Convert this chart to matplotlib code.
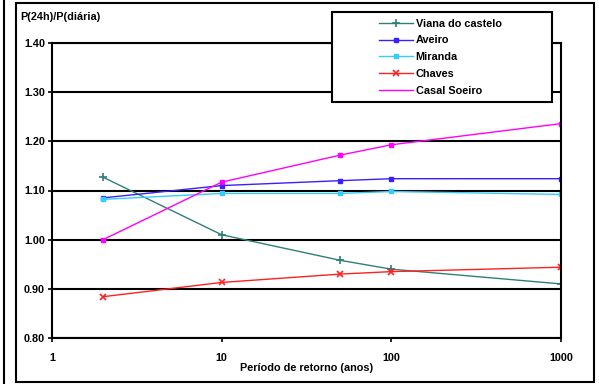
import matplotlib.pyplot as plt
from matplotlib.patches import Rectangle
from matplotlib.lines import Line2D

plt.rcParams['font.family'] = ['Liberation Sans', 'DejaVu Sans']
plt.rcParams['font.weight'] = 'bold'
plt.rcParams['axes.labelweight'] = 'bold'

# periodo de retorno (anos)
periods = [2, 10, 50, 100, 1000]

viana = [1.127, 1.010, 0.958, 0.940, 0.910]
aveiro = [1.085, 1.110, 1.120, 1.124, 1.124]
miranda = [1.082, 1.094, 1.094, 1.098, 1.092]
chaves = [0.884, 0.913, 0.930, 0.935, 0.944]
casal = [1.000, 1.117, 1.172, 1.193, 1.236]

names = ['Viana do castelo', 'Aveiro', 'Miranda', 'Chaves', 'Casal Soeiro']
yticks = [0.80, 0.90, 1.00, 1.10, 1.20, 1.30, 1.40]
xticks = [1, 10, 100, 1000]

W, H = 599, 384
fig = plt.figure(figsize=(W / 100, H / 100), dpi=100)
ax = fig.add_axes([52 / W, 1 - 338 / H, 509 / W, 295 / H])

fs = 7.8
ax.plot(periods, viana, color='#2f7f78', lw=1.0, marker='+', ms=6, mew=1.2)
ax.plot(periods, aveiro, color='#3a1fff', lw=1.0, marker='s', ms=3.5)
ax.plot(periods, miranda, color='#33ccff', lw=1.0, marker='s', ms=3.5)
ax.plot(periods, chaves, color='#ff2020', lw=1.0, marker='x', ms=4.5, mew=1.2)
ax.plot(periods, casal, color='#ff00ff', lw=1.0, marker='s', ms=3.5)

ax.set_xscale('log')
ax.set_xlim(1, 1000)
ax.set_ylim(0.80, 1.40)
ax.set_yticks(yticks)
ax.set_yticklabels(['%.2f' % v for v in yticks], fontsize=fs)
ax.set_xticks(xticks)
ax.set_xticklabels([str(v) for v in xticks], fontsize=fs)
ax.minorticks_off()
ax.tick_params(direction='out', length=3, width=1.2, pad=2)
ax.tick_params(axis='x', pad=8)
for v in yticks:
    ax.axhline(v, color='black', lw=1.5, zorder=0.5)
for s in ax.spines.values():
    s.set_linewidth(1.5)

ax.set_xlabel('Período de retorno (anos)', fontsize=fs, labelpad=0)
fig.text(20 / W, 1 - 17 / H, 'P(24h)/P(diária)', fontsize=fs, va='center')

# legend box like the spreadsheet one
box = Rectangle((332 / W, 1 - 102 / H), 220 / W, 90 / H, transform=fig.transFigure,
                facecolor='white', edgecolor='black', lw=1.5, zorder=5)
fig.add_artist(box)
handles = ax.lines[:4] + [Line2D([], [], color='#ff00ff', lw=1.0)]
leg = fig.legend(handles, names, loc='upper left', bbox_to_anchor=(370 / W, 1 - 10 / H),
                 frameon=False, fontsize=fs, handlelength=3.2, handletextpad=0.2,
                 labelspacing=0.62, borderpad=0.3)
leg.set_zorder(6)

# outer frame lines
fig.add_artist(Rectangle((16 / W, 1 - 382 / H), 578 / W, 379 / H, transform=fig.transFigure,
                         fill=False, edgecolor='black', lw=1.5))
fig.add_artist(Line2D([3.5 / W, 3.5 / W], [0, 1], transform=fig.transFigure, color='black', lw=1.5))

fig.savefig('out.png', dpi=100)
